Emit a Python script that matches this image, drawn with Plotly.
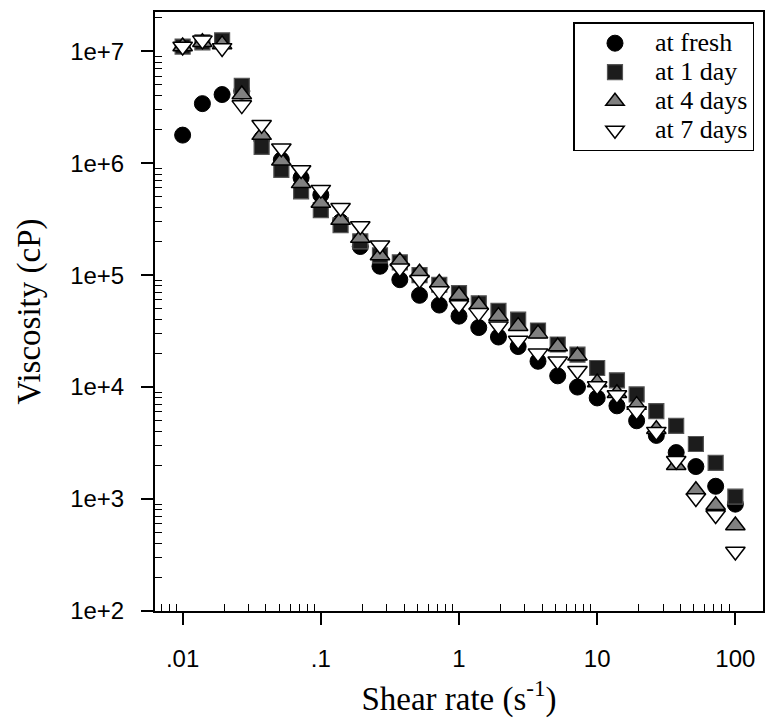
import plotly.graph_objects as go

shear_rate = [0.01, 0.0139, 0.0193, 0.0268, 0.0373, 0.0518, 0.0720,
              0.1, 0.139, 0.193, 0.268, 0.373, 0.518, 0.720,
              1, 1.39, 1.93, 2.68, 3.73, 5.18, 7.20,
              10, 13.9, 19.3, 26.8, 37.3, 51.8, 72.0, 100]

visc_fresh = [1.78e6, 3.4e6, 4.1e6, 4.4e6, 1.65e6, 1.07e6, 7.4e5,
              5.2e5, 3.0e5, 1.8e5, 1.2e5, 9.1e4, 6.6e4, 5.4e4,
              4.3e4, 3.4e4, 2.8e4, 2.3e4, 1.7e4, 1.26e4, 1.0e4,
              8.0e3, 6.8e3, 5.0e3, 3.7e3, 2.6e3, 1.95e3, 1.3e3, 9.0e2]

visc_1day = [1.1e7, 1.2e7, 1.25e7, 4.9e6, 1.4e6, 8.7e5, 5.6e5,
             3.8e5, 2.8e5, 2.0e5, 1.5e5, 1.3e5, 1.0e5, 8.2e4,
             6.9e4, 5.6e4, 4.8e4, 4.0e4, 3.2e4, 2.4e4, 1.95e4,
             1.48e4, 1.15e4, 8.6e3, 6.1e3, 4.5e3, 3.1e3, 2.1e3, 1.05e3]

visc_4days = [1.1e7, 1.2e7, 1.15e7, 4.1e6, 1.78e6, 1.05e6, 6.6e5,
              4.4e5, 3.1e5, 2.14e5, 1.5e5, 1.33e5, 1.05e5, 8.5e4,
              6.6e4, 5.4e4, 4.3e4, 3.5e4, 3.0e4, 2.3e4, 1.9e4,
              1.1e4, 8.8e3, 6.9e3, 4.2e3, 2.0e3, 1.2e3, 8.8e2, 5.8e2]

visc_7days = [1.1e7, 1.25e7, 1.07e7, 3.3e6, 2.2e6, 1.36e6, 8.7e5,
              5.8e5, 4.0e5, 2.75e5, 1.85e5, 1.15e5, 9.1e4, 7.2e4,
              5.4e4, 4.6e4, 3.5e4, 2.6e4, 2.0e4, 1.7e4, 1.4e4,
              1.02e4, 8.5e3, 6.1e3, 4.0e3, 2.2e3, 1.02e3, 7.2e2, 3.4e2]

series_names = ["at fresh", "at 1 day", "at 4 days", "at 7 days"]

x_tickvals = [0.01, 0.1, 1, 10, 100]
x_ticktext = [".01", ".1", "1", "10", "100"]
y_tickvals = [1e2, 1e3, 1e4, 1e5, 1e6, 1e7]
y_ticktext = ["1e+2", "1e+3", "1e+4", "1e+5", "1e+6", "1e+7"]

XR = [-2.2, 2.2]
YR = [2.0, 7.35]

styles = [
    dict(symbol="circle", size=16, color="black", line=dict(color="black", width=1)),
    dict(symbol="square", size=15, color="#1c1c1c", line=dict(color="#555555", width=1.2)),
    dict(symbol="triangle-up", size=17, color="#808080", line=dict(color="black", width=1.5)),
    dict(symbol="triangle-down", size=17, color="white", line=dict(color="black", width=1.5)),
]

fig = go.Figure()
for name, yv, st in zip(series_names, [visc_fresh, visc_1day, visc_4days, visc_7days], styles):
    fig.add_trace(go.Scatter(
        x=shear_rate, y=yv, mode="markers",
        name='<span style="font-size:26px">' + name + '</span>',
        marker=st))

# minor tick positions (axis decoration)
minor_x = [m * 10 ** e for e in range(-3, 3) for m in range(2, 10)]
minor_y = [m * 10 ** e for e in range(2, 8) for m in range(2, 10)]

tickfont = dict(family="Liberation Sans, Arial, sans-serif", size=24, color="black")
titlefont = dict(family="Liberation Serif, Times New Roman, serif", size=33, color="black")

fig.update_layout(
    width=766, height=719,
    margin=dict(l=155, r=1, t=12, b=108),
    paper_bgcolor="white", plot_bgcolor="white",
    showlegend=True,
    legend=dict(
        x=0.986, y=0.983, xanchor="right", yanchor="top",
        bgcolor="white", bordercolor="black", borderwidth=1.5,
        font=dict(family="Liberation Serif, Times New Roman, serif", size=20, color="black"),
        itemwidth=70, tracegroupgap=0,
    ),
    xaxis=dict(
        type="log", range=XR, showgrid=False, zeroline=False,
        showline=True, linecolor="black", linewidth=2, mirror=True,
        ticks="outside", ticklen=12, tickwidth=1.5, tickcolor="black",
        tickmode="array", tickvals=x_tickvals, ticktext=x_ticktext,
        tickfont=tickfont, ticklabelstandoff=13,
        minor=dict(ticks="inside", ticklen=7, tickwidth=1.2, tickcolor="black",
                   tickmode="array", tickvals=minor_x, showgrid=False),
        title=dict(text="Shear rate (s<sup>-1</sup>)", font=titlefont, standoff=16),
    ),
    yaxis=dict(
        type="log", range=YR, showgrid=False, zeroline=False,
        showline=True, linecolor="black", linewidth=2, mirror=True,
        ticks="outside", ticklen=12, tickwidth=1.5, tickcolor="black",
        tickmode="array", tickvals=y_tickvals, ticktext=y_ticktext,
        tickfont=tickfont, ticklabelstandoff=12,
        minor=dict(ticks="inside", ticklen=7, tickwidth=1.2, tickcolor="black",
                   tickmode="array", tickvals=minor_y, showgrid=False),
        title=dict(text="Viscosity (cP)", font=titlefont, standoff=20),
    ),
    xaxis2=dict(
        type="log", range=XR, overlaying="x", anchor="y", side="bottom",
        showgrid=False, zeroline=False, showline=False,
        ticks="inside", ticklen=12, tickwidth=1.5, tickcolor="black",
        tickmode="array", tickvals=x_tickvals, showticklabels=False,
    ),
    yaxis2=dict(
        type="log", range=YR, overlaying="y", anchor="x", side="left",
        showgrid=False, zeroline=False, showline=False,
        ticks="inside", ticklen=12, tickwidth=1.5, tickcolor="black",
        tickmode="array", tickvals=y_tickvals, showticklabels=False,
    ),
)

fig.write_html("out.html")
